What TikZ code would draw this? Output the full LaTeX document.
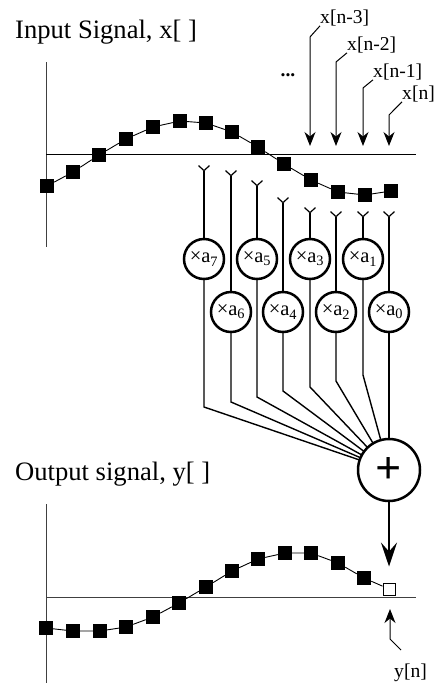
\documentclass[tikz,border=0pt]{standalone}
\usepackage{fontspec}
\setmainfont{Liberation Serif}
\usetikzlibrary{positioning,arrows.meta}

\begin{document}
\begin{tikzpicture}[x=1pt,y=-1pt,
    sample/.style={rectangle, fill=black, inner sep=0pt, minimum size=14pt},
    opensample/.style={rectangle, draw=black, fill=white, line width=1pt, inner sep=0pt, minimum size=12pt},
    curve/.style={line width=0.9pt},
    axis/.style={line width=1pt, black!75},
    mulnode/.style={circle, draw=black, line width=2.5pt, fill=white, inner sep=0pt, outer sep=0pt, minimum size=40pt, font=\fontsize{20.5}{21}\selectfont},
    sumnode/.style={circle, draw=black, line width=2.5pt, fill=white, inner sep=0pt, outer sep=0pt, minimum size=62pt},
    title/.style={anchor=base west, inner sep=0pt, font=\fontsize{26.6}{28}\selectfont},
    tag/.style={anchor=base west, inner sep=0pt, font=\fontsize{19.6}{20}\selectfont},
    leader/.style={line width=1pt, -{Stealth[length=14pt,width=11pt,inset=4.5pt]}},
    tap/.style={line width=1.5pt, -{Straight Barb[reversed,length=5pt,width=11pt,line width=1.2pt]}},
    sumline/.style={line width=1.4pt}]

    \useasboundingbox (0,0) rectangle (436,683);

    \node[title] (intitle) at (15,38) {Input Signal, x[ ]};
    \node[title] (outtitle) at (15,480) {Output signal, y[ ]};

    % input axes
    \coordinate (inT) at (46,62);
    \coordinate (inB) at (46,247);
    \coordinate (inL) at (46,154);
    \coordinate (inR) at (416,154);
    \draw[axis] (inT) -- (inB);
    \draw[axis, black] (inL) -- (inR);

    % input samples
    \node[sample] (x1) at (47,186) {};
    \node[sample] (x2) at (73,172) {};
    \node[sample] (x3) at (99,155) {};
    \node[sample] (x4) at (126,139) {};
    \node[sample] (x5) at (153,127) {};
    \node[sample] (x6) at (180,121) {};
    \node[sample] (x7) at (206,123) {};
    \node[sample] (x8) at (232,132) {};
    \node[sample] (x9) at (258,147) {};
    \node[sample] (x10) at (284,164) {};
    \node[sample] (x11) at (311,180) {};
    \node[sample] (x12) at (338,192) {};
    \node[sample] (x13) at (365,195) {};
    \node[sample] (x14) at (391,191) {};
    \draw[curve] (x1) -- (x2) -- (x3) -- (x4) -- (x5) -- (x6) -- (x7) -- (x8) -- (x9) -- (x10) -- (x11) -- (x12) -- (x13) -- (x14);

    % sample tags
    \node[tag] (xn3) at (320,23) {x[n-3]};
    \node[tag] (xn2) at (347,50) {x[n-2]};
    \node[tag] (xn1) at (373,77) {x[n-1]};
    \node[tag] (xn0) at (402,99) {x[n]};
    \node[font=\fontsize{19.6}{20}\selectfont\bfseries, inner sep=0pt] (dots) at (288,75) {...};
    \coordinate (b3) at (310,37);
    \coordinate (b2) at (336,62);
    \coordinate (b1) at (363,88);
    \coordinate (b0) at (389,115);
    \coordinate (h3) at (310,146);
    \coordinate (h2) at (336,146);
    \coordinate (h1) at (363,146);
    \coordinate (h0) at (389,146);
    \draw[leader] (xn3.south west) -- (b3) -- (h3);
    \draw[leader] (xn2.south west) -- (b2) -- (h2);
    \draw[leader] (xn1.south west) -- (b1) -- (h1);
    \draw[leader] (xn0.south west) -- (b0) -- (h0);

    % multipliers
    \node[mulnode] (a7) at (204,259) {×a\textsubscript{7}\hspace{4pt}};
    \node[mulnode] (a5) [right=13pt of a7] {×a\textsubscript{5}\hspace{4pt}};
    \node[mulnode] (a3) [right=13pt of a5] {×a\textsubscript{3}\hspace{4pt}};
    \node[mulnode] (a1) [right=13pt of a3] {×a\textsubscript{1}\hspace{4pt}};
    \node[mulnode] (a6) at (231,312) {×a\textsubscript{6}\hspace{4pt}};
    \node[mulnode] (a4) [right=12pt of a6] {×a\textsubscript{4}\hspace{4pt}};
    \node[mulnode] (a2) [right=13pt of a4] {×a\textsubscript{2}\hspace{4pt}};
    \node[mulnode] (a0) [right=13pt of a2] {×a\textsubscript{0}\hspace{4pt}};
    \node[sumnode] (sum) at (389,470) {\fontsize{46}{46}\selectfont\bfseries +};

    % taps
    \coordinate (t7) at (204,165);
    \coordinate (t6) at (231,170);
    \coordinate (t5) at (257,180);
    \coordinate (t4) at (283,197);
    \coordinate (t3) at (310,207);
    \coordinate (t2) at (336,211);
    \coordinate (t1) at (363,211);
    \coordinate (t0) at (389,211);
    \draw[tap] (a7) -- (t7);
    \draw[tap] (a6) -- (t6);
    \draw[tap] (a5) -- (t5);
    \draw[tap] (a4) -- (t4);
    \draw[tap] (a3) -- (t3);
    \draw[tap] (a2) -- (t2);
    \draw[tap] (a1) -- (t1);
    \draw[tap] (a0) -- (t0);

    % lines into the sum
    \coordinate (k7) at (204,407);
    \coordinate (k6) at (231,402);
    \coordinate (k5) at (257,397);
    \coordinate (k4) at (283,391);
    \coordinate (k3) at (310,387);
    \coordinate (k2) at (336,381);
    \coordinate (k1) at (363,375);
    \draw[sumline] (a7) -- (k7) -- (sum);
    \draw[sumline] (a6) -- (k6) -- (sum);
    \draw[sumline] (a5) -- (k5) -- (sum);
    \draw[sumline] (a4) -- (k4) -- (sum);
    \draw[sumline] (a3) -- (k3) -- (sum);
    \draw[sumline] (a2) -- (k2) -- (sum);
    \draw[sumline] (a1) -- (k1) -- (sum);
    \draw[sumline] (a0) -- (sum);

    % output axes
    \coordinate (outT) at (46,504);
    \coordinate (outB) at (46,683);
    \coordinate (outL) at (46,597);
    \coordinate (outR) at (416,597);
    \draw[axis] (outT) -- (outB);
    \draw[axis] (outL) -- (outR);

    % output samples
    \node[sample] (y1) at (46,628) {};
    \node[sample] (y2) at (73,631) {};
    \node[sample] (y3) at (100,631) {};
    \node[sample] (y4) at (126,627) {};
    \node[sample] (y5) at (153,617) {};
    \node[sample] (y6) at (179,603) {};
    \node[sample] (y7) at (206,587) {};
    \node[sample] (y8) at (232,571) {};
    \node[sample] (y9) at (258,559) {};
    \node[sample] (y10) at (285,553) {};
    \node[sample] (y11) at (311,553) {};
    \node[sample] (y12) at (338,563) {};
    \node[sample] (y13) at (364,578) {};
    \node[opensample] (y14) at (389,589) {};
    \draw[curve] (y1) -- (y2) -- (y3) -- (y4) -- (y5) -- (y6) -- (y7) -- (y8) -- (y9) -- (y10) -- (y11) -- (y12) -- (y13) -- (y14);

    \draw[line width=1.5pt, -{Stealth[length=24pt,width=16pt,inset=9pt]}, shorten >=16pt] (sum) -- (y14);

    \node[tag] (yn) at (394,677) {y[n]};
    \coordinate (ys) at (401,650);
    \coordinate (yb) at (390,639);
    \coordinate (yh) at (390,609);
    \draw[leader] (ys) -- (yb) -- (yh);

\end{tikzpicture}
\end{document}
